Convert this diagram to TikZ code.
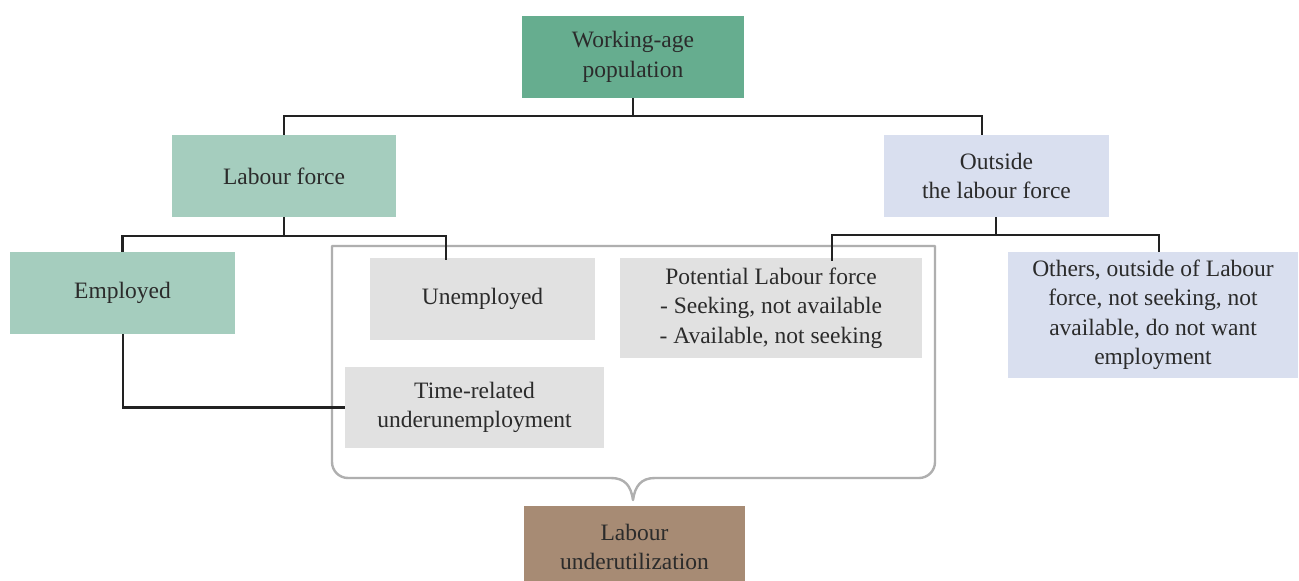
\documentclass[tikz,border=0pt]{standalone}
\usepackage{fontspec}
\setmainfont{Liberation Serif}
\usetikzlibrary{calc}
\definecolor{dkgreen}{HTML}{66AD8F}
\definecolor{ltgreen}{HTML}{A5CDBE}
\definecolor{ltblue}{HTML}{D9DFEF}
\definecolor{ltgray}{HTML}{E1E1E1}
\definecolor{brown}{HTML}{A78B74}
\definecolor{txt}{HTML}{2B2B2B}
\definecolor{conn}{HTML}{222222}
\definecolor{brk}{HTML}{AFAFAF}
\tikzset{
  box/.style={rectangle, inner sep=0pt, align=center, text=txt,
    font=\fontsize{23.5}{29.5}\selectfont},
  link/.style={draw=conn, line width=2.4pt},
  bracket/.style={draw=brk, line width=2.4pt, line join=round}
}
\begin{document}
\begin{tikzpicture}[x=1pt,y=-1pt]
\useasboundingbox (0,0) rectangle (1299,581);
\clip (0,0) rectangle (1299,581);
\fill[white] (0,0) rectangle (1299,581);

% bracket
\draw[bracket] (332,246) -- (935,246) -- (935,462)
  arc[start angle=0, end angle=90, radius=16] -- (655,478)
  .. controls (641,478) and (635,486) .. (633,500)
  .. controls (631,486) and (625,478) .. (611,478)
  -- (348,478) arc[start angle=90, end angle=180, radius=16] -- cycle;

\node[box, fill=dkgreen, minimum width=222pt, minimum height=82pt] (wap) at (633,57) {Working-age\\population};
\node[box, fill=ltgreen, minimum width=224pt, minimum height=82pt] (lf) at (284,176) {Labour force};
\node[box, fill=ltblue, minimum width=225pt, minimum height=82pt] (olf) at (996.5,176) {Outside\\the labour force};
\node[box, fill=ltgreen, minimum width=225pt, minimum height=82pt] (emp) at (122.5,293) {Employed};
\node[box, fill=ltgray, minimum width=225pt, minimum height=82pt] (unemp) at (482.5,299) {Unemployed};
\node[box, fill=ltgray, minimum width=259pt, minimum height=81pt] (trel) at (474.5,407.5) {Time-related\\underunemployment};
\node[box, fill=ltgray, minimum width=302pt, minimum height=100pt] (plf) at (771,308) {Potential Labour force\\- Seeking, not available\\- Available, not seeking};
\node[box, fill=ltblue, minimum width=290pt, minimum height=126pt] (oth) at (1153,315) {Others, outside of Labour\\force, not seeking, not\\available, do not want\\employment};
\node[box, fill=brown, minimum width=221pt, minimum height=82pt] (lu) at (634.5,547) {Labour\\underutilization};

% connectors
\coordinate (j1) at (633,116);
\coordinate (j2) at (284,236);
\coordinate (j3) at (996,235);
\draw[link] (wap.south) -- (j1) -| (lf.north);
\draw[link] (j1) -| ([xshift=-14.5pt]olf.north);
\draw[link] (lf.south) -- (j2) -| (emp.north);
\draw[link] (j2) -| ([xshift=-36.5pt, yshift=-2pt]unemp.north);
\draw[link] ([xshift=-0.5pt]olf.south) -- (j3) -| ([xshift=61pt, yshift=-3pt]plf.north);
\draw[link] (j3) -| ([xshift=6pt]oth.north);
\draw[link] ([xshift=0.5pt]emp.south) |- (trel.west);
\end{tikzpicture}
\end{document}
